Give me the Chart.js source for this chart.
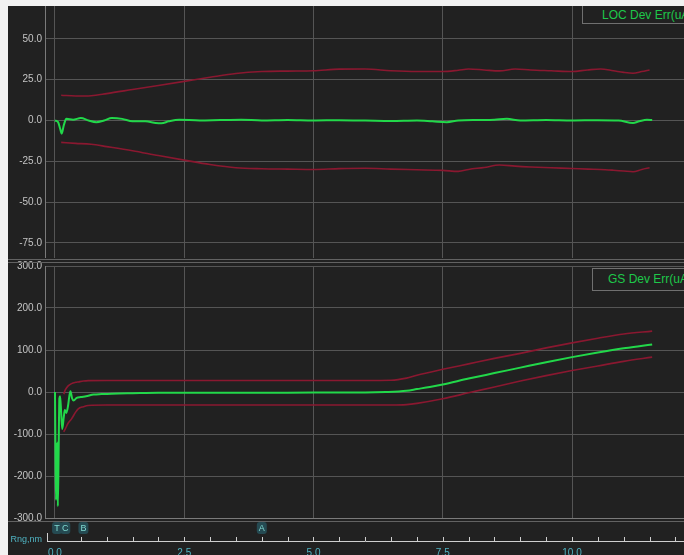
<!DOCTYPE html>
<html>
<head>
<meta charset="utf-8">
<script src="https://cdn.jsdelivr.net/npm/chart.js@4.4.0/dist/chart.umd.min.js"></script>
<style>
  html, body { margin: 0; padding: 0; width: 684px; height: 555px; overflow: hidden; background: #f2f2f2; font-family: "Liberation Sans", Arial, sans-serif; }
  #panel { position: absolute; left: 8px; top: 6px; width: 676px; height: 549px; background: #212121; overflow: hidden; }
  .box { position: absolute; left: 0; width: 676px; }
  #locBox { top: 0; height: 252px; }
  #gsBox { top: 252px; height: 297px; }
  .sep { position: absolute; left: 0; width: 676px; height: 1px; background: #626262; }
  .legend { position: absolute; width: 200px; border: 1px solid #707070; background: #212121; color: #1ec84a; font-size: 12px; line-height: 16px; }
</style>
</head>
<body>
<div id="panel">
  <div class="box" id="locBox"><canvas id="locChart"></canvas></div>
  <div class="box" id="gsBox"><canvas id="gsChart"></canvas></div>
  <div class="sep" style="top:253px"></div>
  <div class="sep" style="top:256px"></div>
  <div class="sep" style="top:515px"></div>
  <div class="legend" style="left:574px; top:-1px; height:17px; padding-left:19px; line-height:18px;">LOC Dev Err(uA)</div>
  <div class="legend" style="left:584px; top:262px; height:21px; padding-left:15px; line-height:21px;">GS Dev Err(uA)</div>
</div>
<script>
// LOC deviation error (top panel)
const locDist = [0.0, 0.06, 0.1, 0.13, 0.17, 0.22, 0.35, 0.5, 0.65, 0.8, 0.95, 1.1, 1.3, 1.5, 1.75, 1.95, 2.06, 2.2, 2.4, 2.8, 3.2, 3.6, 4.0, 4.5, 5.0, 5.5, 6.0, 6.5, 7.0, 7.3, 7.58, 7.8, 8.2, 8.5, 8.74, 9.0, 9.5, 10.0, 10.5, 10.9, 11.18, 11.3, 11.45, 11.55];
const locErr = [0, -1, -5, -8, -3, 1, 0.5, 1.5, 0, -1, 0, 1.5, 1, -0.5, -0.5, -1.5, -1.7, -0.5, 0.5, 0, 0.3, 0.5, 0, 0.3, 0, 0.2, 0, -0.3, 0, -0.5, -1, 0, 0.3, 0.5, 1, 0, 0.3, 0, 0.2, 0, -1.5, -0.5, 0.5, 0.3];
const locLimDist = [0.12, 0.4, 0.7, 1.0, 1.5, 2.0, 2.5, 3.0, 3.5, 4.0, 4.5, 5.0, 5.5, 6.0, 6.5, 7.0, 7.5, 7.8, 8.0, 8.3, 8.6, 8.9, 9.2, 9.6, 10.0, 10.3, 10.55, 10.8, 11.0, 11.18, 11.35, 11.5];
const locUpper = [15.5, 15, 15.2, 16.5, 19, 21.5, 24, 26.5, 28.8, 30, 30.3, 30.5, 31.5, 31.6, 30.5, 30, 30, 30.8, 31.6, 31, 30.4, 31.6, 31, 30.5, 30, 31, 31.6, 30.5, 29.5, 29, 30, 31];
const locLower = [-13.4, -14, -14.6, -16, -18.5, -21.5, -24.3, -27, -29, -29.6, -29.8, -30, -29.5, -29.3, -29.8, -30.2, -30.6, -31.2, -30, -28.8, -27.3, -28, -28.5, -29, -29.4, -29.8, -30, -30.5, -31, -31.4, -30, -29];

// GS deviation error (bottom panel)
const gsDist = [0.0, 0.01, 0.02, 0.03, 0.045, 0.055, 0.07, 0.085, 0.1, 0.12, 0.14, 0.17, 0.19, 0.22, 0.25, 0.28, 0.3, 0.33, 0.36, 0.42, 0.5, 0.6, 0.75, 0.9, 1.1, 1.5, 2.0, 3.0, 4.0, 5.0, 6.0, 6.4, 6.8, 7.0, 7.25, 7.5, 8.0, 8.5, 9.0, 9.5, 10.0, 10.5, 11.0, 11.3, 11.55];
const gsErr = [0, -150, -257, -200, -120, -272, -150, -15, -10, -50, -88, -60, -43, -50, -35, -8, 2, -15, -20, -14, -12, -10, -6, -5, -4, -3, -2, -2, -2, -1, -1, 0, 3, 7, 12, 18, 32, 45, 58, 71, 83, 94, 104, 109, 113];
const gsLimDist = [0.17, 0.2, 0.25, 0.32, 0.4, 0.45, 0.55, 0.64, 1.0, 2.0, 3.0, 4.0, 5.0, 6.0, 6.5, 6.8, 7.0, 7.5, 8.0, 8.5, 9.0, 9.5, 10.0, 10.5, 11.0, 11.55];
const gsUpper = [-5, 5, 14, 20, 23, 24, 26, 27, 27.5, 27.5, 27.5, 27.5, 27.5, 27.5, 28, 33, 40, 54, 67, 80, 92, 105, 117, 128, 138, 145];
const gsLower = [-95, -88, -75, -64, -48, -40, -35, -32, -31, -31, -31, -31, -31, -31, -31, -30, -27, -16, -2, 12, 26, 39, 51, 62, 73, 83];

// event markers along the range axis
const markerLabels = ['T', 'C', 'B', 'A'];
const markerDist = [0.04, 0.2, 0.55, 4.0];

const rangeMin = -0.193;
const rangeMax = 12.166;

const GREEN = '#22d84a';
const RED = '#8a1830';
const GRID = '#555555';
const TEAL = '#4fb3c2';

Chart.defaults.font.family = '"Liberation Sans", Arial, sans-serif';
Chart.defaults.animation = false;

function pts(xs, ys) {
    return xs.map((x, i) => ({ x: x, y: ys[i] }));
}

function lineSet(xs, ys, color, width) {
    return {
        data: pts(xs, ys),
        borderColor: color,
        borderWidth: width,
        pointRadius: 0,
        cubicInterpolationMode: 'monotone',
        fill: false
    };
}

function yAxis(min, max, step) {
    return {
        min: min,
        max: max,
        afterFit: function (scale) {
            scale.width = 37;
            scale.paddingTop = 0;
            scale.paddingBottom = 0;
        },
        ticks: {
            stepSize: step,
            includeBounds: false,
            color: '#c4c4c4',
            font: { size: 10 },
            padding: 3,
            callback: function (v) { return v.toFixed(1); }
        },
        grid: { color: GRID, drawTicks: false },
        border: { display: true, color: '#7a7a7a' }
    };
}

// top panel
new Chart(document.getElementById('locChart'), {
    type: 'line',
    data: {
        datasets: [
            lineSet(locLimDist, locUpper, RED, 1.6),
            lineSet(locLimDist, locLower, RED, 1.6),
            lineSet(locDist, locErr, GREEN, 2)
        ]
    },
    options: {
        responsive: true,
        maintainAspectRatio: false,
        layout: { padding: 0 },
        scales: {
            x: {
                type: 'linear',
                min: rangeMin,
                max: rangeMax,
                afterFit: function (scale) {
                    scale.height = 0;
                    scale.paddingLeft = 0;
                    scale.paddingRight = 0;
                },
                ticks: { stepSize: 2.5, includeBounds: false, display: false },
                grid: { color: GRID, drawTicks: false },
                border: { display: false }
            },
            y: yAxis(-84.3, 70.2, 25)
        },
        plugins: { legend: { display: false }, tooltip: { enabled: false } }
    }
});

// range axis and event markers drawn under the bottom panel
const rangeAxis = {
    id: 'rangeAxis',
    afterDraw(chart) {
        const ctx = chart.ctx;
        const x = chart.scales.x;
        const area = chart.chartArea;
        const axisY = 283;
        ctx.save();
        ctx.strokeStyle = '#cfcfcf';
        ctx.lineWidth = 1;
        ctx.beginPath();
        ctx.moveTo(area.left + 2, axisY + 0.5);
        ctx.lineTo(area.right, axisY + 0.5);
        ctx.moveTo(area.left + 2.5, axisY);
        ctx.lineTo(area.left + 2.5, axisY - 8);
        for (let v = 0.5; v <= rangeMax; v += 0.5) {
            const px = Math.round(x.getPixelForValue(v)) + 0.5;
            ctx.moveTo(px, axisY);
            ctx.lineTo(px, axisY - 4);
        }
        ctx.stroke();

        ctx.fillStyle = TEAL;
        ctx.font = '9px "Liberation Sans", Arial, sans-serif';
        ctx.textAlign = 'right';
        ctx.textBaseline = 'middle';
        ctx.fillText('Rng,nm', area.left - 3, axisY - 1);

        ctx.textAlign = 'center';
        markerLabels.forEach(function (lab, i) {
            const px = x.getPixelForValue(markerDist[i]);
            ctx.fillStyle = '#254a52';
            ctx.beginPath();
            ctx.roundRect(px - 5, 264, 10, 12, 3);
            ctx.fill();
            ctx.fillStyle = '#7fd8d0';
            ctx.fillText(lab, px, 270.5);
        });
        ctx.restore();
    }
};

// bottom panel
new Chart(document.getElementById('gsChart'), {
    type: 'line',
    data: {
        datasets: [
            lineSet(gsLimDist, gsUpper, RED, 1.6),
            lineSet(gsLimDist, gsLower, RED, 1.6),
            lineSet(gsDist, gsErr, GREEN, 2)
        ]
    },
    options: {
        responsive: true,
        maintainAspectRatio: false,
        layout: { padding: { top: 8, left: 0, right: 0, bottom: 0 } },
        scales: {
            x: {
                type: 'linear',
                min: rangeMin,
                max: rangeMax,
                afterFit: function (scale) {
                    scale.height = 37;
                    scale.paddingLeft = 0;
                    scale.paddingRight = 0;
                },
                ticks: {
                    stepSize: 2.5,
                    includeBounds: false,
                    color: TEAL,
                    font: { size: 10 },
                    padding: 29,
                    maxRotation: 0,
                    callback: function (v) { return v.toFixed(1); }
                },
                grid: { color: GRID, drawTicks: false },
                border: { display: true, color: '#7a7a7a' }
            },
            y: yAxis(-300, 300, 100)
        },
        plugins: { legend: { display: false }, tooltip: { enabled: false } }
    },
    plugins: [rangeAxis]
});
</script>
</body>
</html>
